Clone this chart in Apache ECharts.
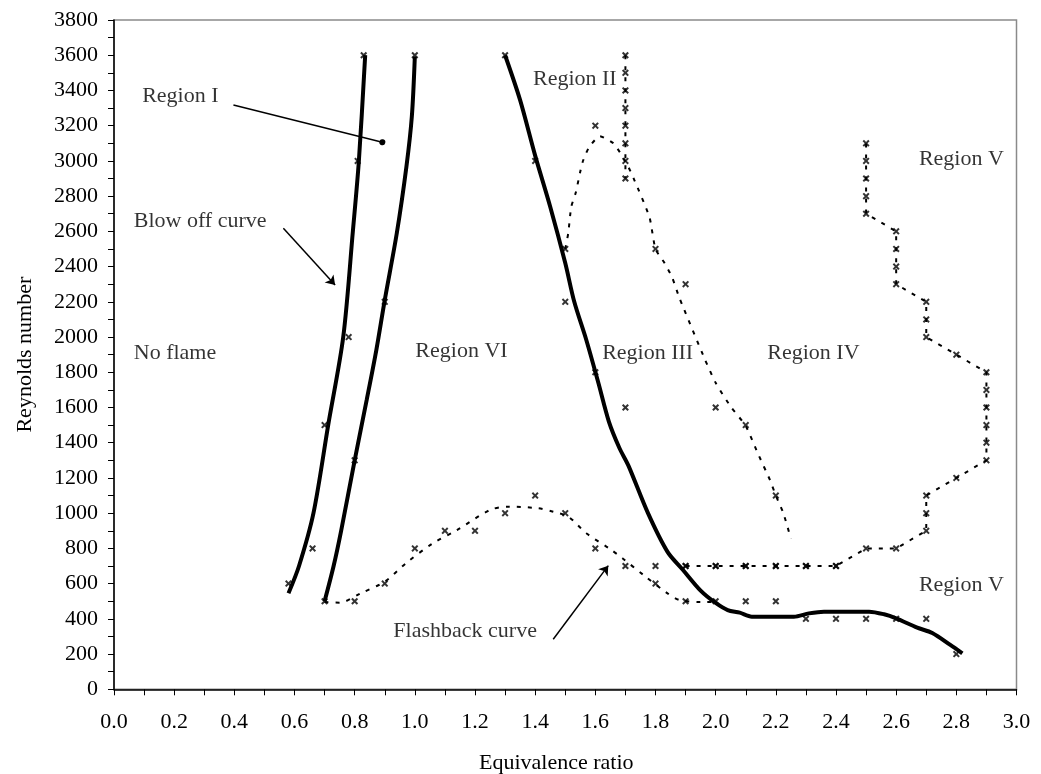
<!DOCTYPE html>
<html>
<head>
<meta charset="utf-8">
<script src="https://cdn.jsdelivr.net/npm/echarts@6/dist/echarts.min.js"></script>
<style>
html,body{margin:0;padding:0;background:#fff;}
#chart{width:1041px;height:774px;}
</style>
</head>
<body>
<div id="chart"></div>
<script>
// ---------- Data ----------
// Thick solid fitted curves
const blowOffCurve = [[0.58,545],[0.615,700],[0.663,1000],[0.712,1500],[0.762,2000],[0.794,2600],[0.814,3000],[0.835,3600]];
const regionVICurve = [[0.70,500],[0.73,700],[0.755,900],[0.80,1300],[0.84,1643],[0.872,1926],[0.90,2210],[0.94,2589],[0.972,2967],[0.99,3251],[1.0,3592]];
const richCurve = [[1.30,3600],[1.35,3345],[1.40,3030],[1.45,2740],[1.50,2420],[1.53,2200],[1.57,1983],[1.61,1740],[1.645,1520],[1.68,1370],[1.71,1270],[1.775,1000],[1.84,780],[1.89,680],[1.95,560],[2.0,490],[2.04,450],[2.08,435],[2.12,412],[2.26,412],[2.31,431],[2.36,441],[2.51,441],[2.56,426],[2.60,403],[2.67,350],[2.72,320],[2.78,252],[2.82,204]];
// Dashed curves
const flashbackCurve = [[0.70,495],[0.75,492],[0.82,545],[0.90,611],[0.97,715],[1.06,829],[1.14,904],[1.25,1018],[1.31,1037],[1.41,1028],[1.46,1008],[1.51,980],[1.57,886],[1.65,795],[1.69,744],[1.76,649],[1.84,545],[1.88,507],[1.95,495],[2.0,497]];
const regionIIVertical = [[1.7,3600],[1.7,3500],[1.7,3400],[1.7,3300],[1.7,3200],[1.7,3100],[1.7,3000],[1.7,2900]];
const regionIIICurve = [[1.50,2500],[1.51,2590],[1.52,2740],[1.535,2820],[1.55,2940],[1.56,3005],[1.58,3080],[1.615,3140],[1.66,3100],[1.69,3025],[1.71,2965],[1.73,2890],[1.78,2680],[1.80,2500],[1.83,2420],[1.855,2340],[1.88,2220],[1.965,1870],[2.00,1740],[2.05,1605],[2.10,1495],[2.14,1340],[2.18,1190],[2.20,1100],[2.225,1000],[2.25,855]];
const regionVBoundary = [[1.9,700],[2.0,700],[2.1,700],[2.2,700],[2.3,700],[2.4,700],[2.5,800],[2.6,800],[2.7,900],[2.7,1000],[2.7,1100],[2.8,1200],[2.9,1300],[2.9,1400],[2.9,1500],[2.9,1600],[2.9,1700],[2.9,1800],[2.8,1900],[2.7,2000],[2.7,2100],[2.7,2200],[2.6,2300],[2.6,2400],[2.6,2500],[2.6,2600],[2.5,2700],[2.5,2800],[2.5,2900],[2.5,3000],[2.5,3100]];
// Measured points (x markers)
const blowOffPoints = [[0.58,600],[0.66,800],[0.70,1500],[0.78,2000],[0.81,3000],[0.83,3600]];
const regionVIPoints = [[0.70,500],[0.80,1300],[0.90,2200],[1.00,3600]];
const richPoints = [[1.30,3600],[1.40,3000],[1.50,2200],[1.60,1800],[1.70,1600]];
const flashbackPoints = [[0.8,500],[0.9,600],[1.0,800],[1.1,900],[1.2,900],[1.3,1000],[1.4,1100],[1.5,1000],[1.6,800],[1.7,700],[1.8,600],[1.9,500]];
const lowPoints = [[1.8,700],[1.9,700],[2.0,700],[2.1,700],[2.2,700],[2.3,700],[2.4,700],[2.0,500],[2.1,500],[2.2,500],[2.3,400],[2.4,400],[2.5,400],[2.6,400],[2.7,400],[2.8,200]];
const regionIIIPoints = [[1.5,2500],[1.6,3200],[1.8,2500],[1.9,2300],[2.0,1600],[2.1,1500],[2.2,1100]];
// Annotation texts and anchor points (left edge, data coords)
const regionLabels = [
  ['Region I',0.092,3365],['Blow off curve',0.064,2655],['No flame',0.064,1908],
  ['Region VI',1.0,1917],['Region III',1.621,1908],['Region IV',2.170,1908],
  ['Region II',1.391,3463],['Region V',2.674,3009],['Region V',2.674,592],
  ['Flashback curve',0.927,327]
];
// Pointer lines: [x1,y1,x2,y2,endSymbol]
const pointers = [
  [0.397,3317,0.892,3106,'circle'],
  [0.563,2617,0.735,2295,'arrow'],
  [1.46,284,1.643,702,'arrow']
];
const xTicks = {min:0,max:3,interval:0.2};
const yTicks = {min:0,max:3800,interval:200};

// ---------- Chart ----------
const FONT = 'Liberation Serif';
const XMARK = 'path://M0,2L2,0L5,3L8,0L10,2L7,5L10,8L8,10L5,7L2,10L0,8L3,5Z';
const chart = echarts.init(document.getElementById('chart'), null, {renderer:'canvas'});

function thick(name, data){
  return {name, type:'line', data, showSymbol:false, smooth:0.3, z:3,
    lineStyle:{color:'#000', width:4}, silent:true};
}
function dashed(name, data, smooth){
  return {name, type:'line', data, showSymbol:false, smooth:smooth||false, z:2,
    lineStyle:{color:'#000', width:2, type:[4,7]}, silent:true};
}
function marks(name, data){
  return {name, type:'scatter', data, symbol:XMARK, symbolSize:7, z:4,
    itemStyle:{color:'#000'}, silent:true};
}
const axisCommon = {
  axisLine:{show:true, onZero:false, lineStyle:{color:'#000', width:1.5}},
  axisTick:{show:true, inside:false, length:6, lineStyle:{color:'#000', width:1}},
  minorTick:{show:true, splitNumber:2, length:6, lineStyle:{color:'#000', width:1}},
  splitLine:{show:false}, minorSplitLine:{show:false}
};

const option = {
  animation:false,
  backgroundColor:'#fff',
  grid:{left:114, right:24.5, top:20, bottom:84.7, containLabel:false, outerBoundsMode:'none',
    show:true, borderColor:'#8a8a8a', borderWidth:1.5, backgroundColor:'transparent'},
  xAxis:Object.assign({type:'value', min:xTicks.min, max:xTicks.max, interval:xTicks.interval,
    name:'Equivalence ratio', nameLocation:'middle', nameGap:63,
    nameTextStyle:{fontFamily:FONT, fontSize:22, color:'#000', padding:[0,18,0,0]},
    axisLabel:{formatter:v=>v.toFixed(1), margin:22, fontFamily:FONT, fontSize:22, color:'#000'}}, axisCommon),
  yAxis:Object.assign({type:'value', min:yTicks.min, max:yTicks.max, interval:yTicks.interval,
    name:'Reynolds number', nameLocation:'middle', nameGap:78,
    nameTextStyle:{fontFamily:FONT, fontSize:22, color:'#000'},
    axisLabel:{formatter:v=>String(v), margin:16, fontFamily:FONT, fontSize:22, color:'#000'}}, axisCommon),
  series:[
    thick('Blow off curve', blowOffCurve),
    thick('Region VI boundary', regionVICurve),
    thick('Rich boundary', richCurve),
    dashed('Flashback curve', flashbackCurve, 0.3),
    dashed('Region II boundary', regionIIVertical),
    dashed('Region III boundary', regionIIICurve, 0.2),
    dashed('Region V boundary', regionVBoundary),
    marks('Blow off points', blowOffPoints),
    marks('Region VI points', regionVIPoints),
    marks('Rich points', richPoints),
    marks('Flashback points', flashbackPoints),
    marks('Low points', lowPoints),
    marks('Region II points', regionIIVertical),
    marks('Region III points', regionIIIPoints),
    marks('Region V points', regionVBoundary),
    {name:'Annotations', type:'scatter', symbolSize:1, z:5, silent:true,
      itemStyle:{color:'rgba(0,0,0,0)'},
      data:regionLabels.map(r=>({name:r[0], value:[r[1],r[2]]})),
      label:{show:true, position:'right', distance:0, formatter:'{b}', fontFamily:FONT, fontSize:22, color:'#000'},
      markLine:{silent:true, animation:false, symbolSize:8,
        label:{show:false}, lineStyle:{color:'#000', width:1.5, type:'solid'},
        data:pointers.map(p=>[
          {coord:[p[0],p[1]], symbol:'none'},
          {coord:[p[2],p[3]], symbol:p[4], symbolSize:p[4]==='circle'?6:9}
        ])}
    }
  ]
};
chart.setOption(option);
</script>
</body>
</html>
